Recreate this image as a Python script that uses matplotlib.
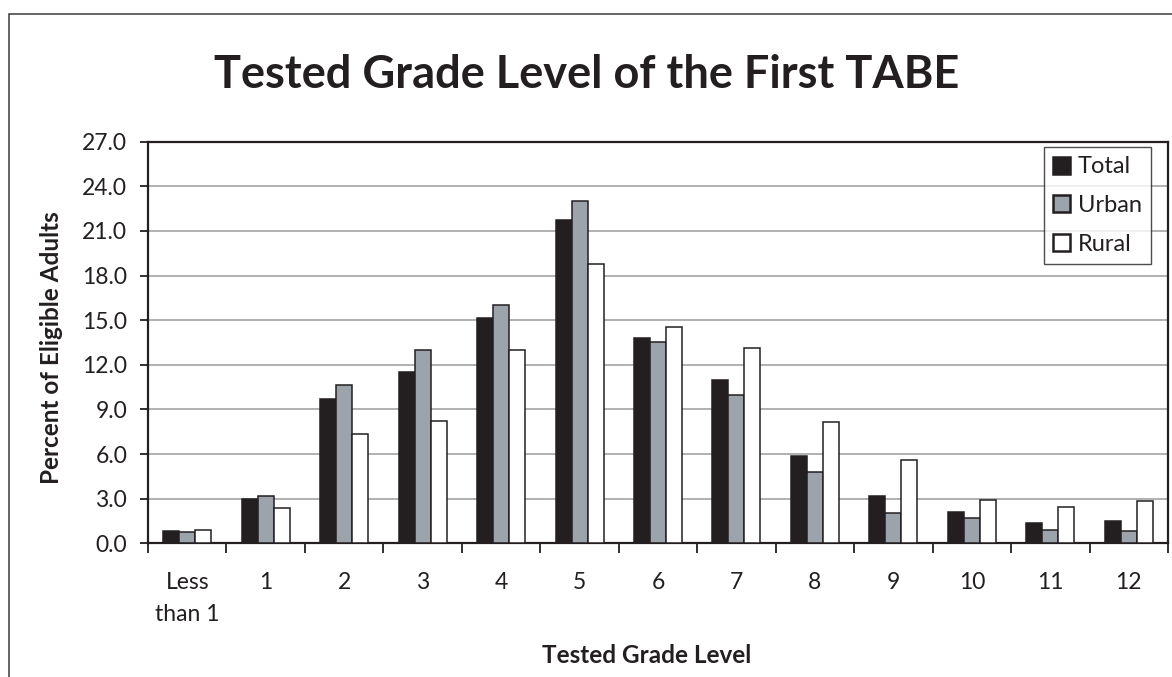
import matplotlib
matplotlib.use("Agg")
import matplotlib.pyplot as plt
import numpy as np
from matplotlib.patches import Rectangle
from matplotlib.ticker import FixedLocator

categories = ["Less\nthan 1", "1", "2", "3", "4", "5", "6", "7", "8", "9", "10", "11", "12"]
total = [0.85, 3.0, 9.67, 11.55, 15.13, 21.71, 13.83, 11.01, 5.84, 3.18, 2.13, 1.37, 1.52]
urban = [0.76, 3.18, 10.63, 12.98, 16.03, 22.99, 13.52, 9.96, 4.77, 2.06, 1.72, 0.90, 0.85]
rural = [0.90, 2.37, 7.34, 8.19, 12.98, 18.78, 14.55, 13.14, 8.15, 5.62, 2.93, 2.44, 2.87]
series_names = ["Total", "Urban", "Rural"]
yticks = [0, 3, 6, 9, 12, 15, 18, 21, 24, 27]

plt.rcParams['font.family'] = ['Lato', 'DejaVu Sans']
W, H = 1172, 677
fig = plt.figure(figsize=(W / 100, H / 100), dpi=100)
dark = "#231f20"

# outer frame
fig.patches.append(Rectangle((9.5 / W, -0.05), 1.2, 1 - 13.5 / H + 0.05,
                             transform=fig.transFigure, fill=False,
                             edgecolor="#3a3a3a", linewidth=1.1, clip_on=False))

ax = fig.add_axes([148 / W, 1 - 543.3 / H, (1168 - 148) / W, (543.3 - 141.7) / H])
x = np.arange(len(categories))
bw = 0.204
colors = [dark, "#9ca3aa", "white"]
for i, (vals, name) in enumerate(zip([total, urban, rural], series_names)):
    ax.bar(x + (i - 1) * bw, vals, width=bw, color=colors[i], edgecolor=dark,
           linewidth=1.1, label=name, zorder=3)

ax.set_xlim(-0.5, len(categories) - 0.5)
ax.set_ylim(0, 27)
ax.set_yticks(yticks)
ax.set_yticklabels([f"{v:.1f}" for v in yticks])
ax.set_xticks(x)
ax.set_xticklabels(categories, linespacing=1.62, va="top")
ax.xaxis.set_minor_locator(FixedLocator(np.arange(-0.5, len(categories), 1.0)))
ax.tick_params(axis='x', which='major', length=0, pad=21, labelsize=16.5, colors=dark)
ax.tick_params(axis='x', which='minor', length=7, width=1.3, color=dark, direction='out')
ax.tick_params(axis='y', length=6, width=1.3, color=dark, labelsize=16.5, labelcolor=dark, pad=9)

ax.yaxis.grid(True, color="#b0b0b0", linewidth=1.4, zorder=0)
ax.set_axisbelow(True)
for s in ax.spines.values():
    s.set_color(dark)
    s.set_linewidth(1.6)

fig.text(646.5 / W, 1 - 663 / H, "Tested Grade Level", ha='center', va='baseline',
         fontsize=17.5, fontweight='bold', color=dark)
fig.text(52 / W, 1 - 347.5 / H, "Percent of Eligible Adults", ha='center', va='center',
         rotation=90, fontsize=17.5, fontweight='bold', color=dark)

fig.text(586.5 / W, 1 - 88 / H, "Tested Grade Level of the First TABE", ha='center', va='baseline',
         fontsize=32.5, fontweight='bold', color=dark)

leg = ax.legend(loc='upper right', bbox_to_anchor=(1151 / W, 1 - 147 / H),
                bbox_transform=fig.transFigure, fontsize=17, frameon=True, fancybox=False,
                handlelength=0.72, handleheight=0.72, handletextpad=0.3, borderpad=0.4,
                labelspacing=0.75, borderaxespad=0)
leg.get_frame().set_edgecolor(dark)
leg.get_frame().set_linewidth(1.0)
for h in leg.legend_handles:
    h.set_linewidth(1.8)
for t in leg.get_texts():
    t.set_color(dark)

fig.savefig("out.png", dpi=100)
